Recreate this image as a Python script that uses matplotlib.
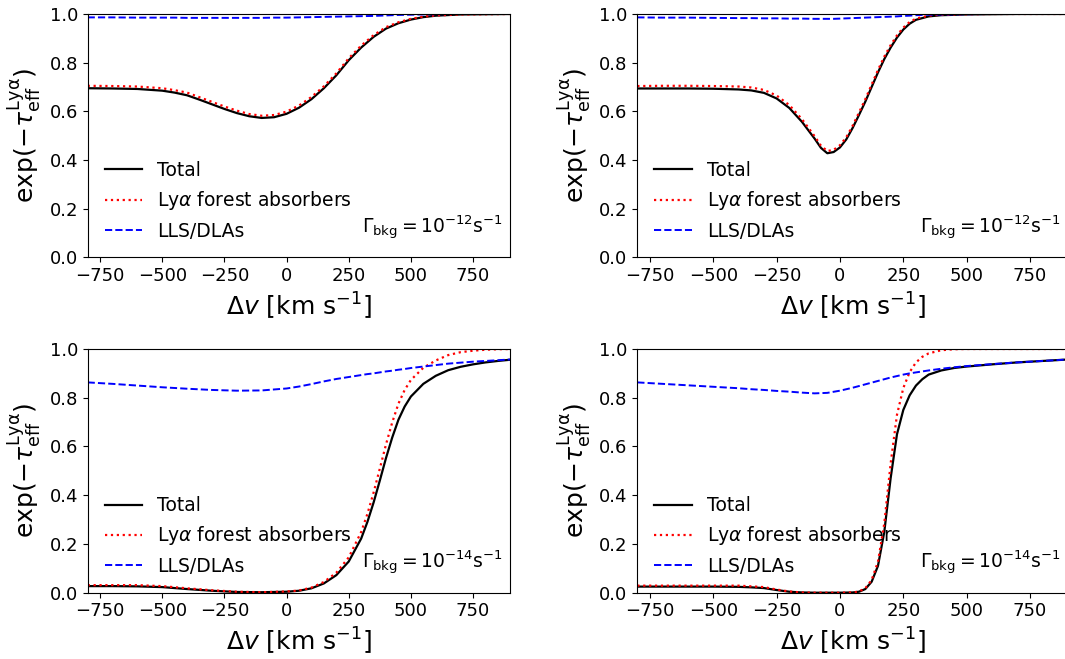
import numpy as np
import matplotlib
matplotlib.use("Agg")
import matplotlib.pyplot as plt

# ---- top left: Gamma = 1e-12, broad absorption ----
v_tl = [-800, -700, -600, -500, -450, -400, -350, -300, -250, -200, -150, -100, -50, 0, 50, 100,
        150, 200, 250, 300, 350, 400, 450, 500, 550, 600, 700, 800, 900]
tot_tl = [0.695, 0.694, 0.692, 0.685, 0.677, 0.666, 0.648, 0.629, 0.610, 0.593, 0.580, 0.573, 0.576, 0.590,
          0.615, 0.650, 0.695, 0.748, 0.810, 0.862, 0.906, 0.940, 0.962, 0.977, 0.987, 0.993, 0.998, 0.999, 1.0]
lya_tl = [0.705, 0.704, 0.702, 0.695, 0.687, 0.677, 0.658, 0.639, 0.620, 0.603, 0.589, 0.582, 0.585, 0.599,
          0.624, 0.659, 0.703, 0.756, 0.818, 0.870, 0.913, 0.946, 0.966, 0.980, 0.989, 0.994, 0.998, 0.999, 1.0]
lls_tl = [0.986, 0.986, 0.985, 0.985, 0.985, 0.984, 0.984, 0.984, 0.984, 0.984, 0.984, 0.984, 0.985, 0.985,
          0.986, 0.987, 0.988, 0.989, 0.990, 0.991, 0.992, 0.994, 0.996, 0.997, 0.998, 0.999, 1.0, 1.0, 1.0]

# ---- top right: Gamma = 1e-12, narrow absorption ----
v_tr = [-800, -700, -600, -500, -400, -350, -300, -250, -200, -150, -100, -75, -50, -25, 0, 25, 50, 75,
        100, 125, 150, 175, 200, 225, 250, 275, 300, 350, 400, 500, 600, 700, 800, 900]
tot_tr = [0.694, 0.694, 0.694, 0.693, 0.690, 0.686, 0.676, 0.653, 0.614, 0.557, 0.488, 0.450, 0.428, 0.433,
          0.452, 0.485, 0.532, 0.585, 0.640, 0.700, 0.760, 0.815, 0.862, 0.903, 0.936, 0.960, 0.976, 0.990,
          0.995, 0.998, 0.999, 1.0, 1.0, 1.0]
lya_tr = [0.704, 0.705, 0.705, 0.704, 0.702, 0.698, 0.688, 0.665, 0.626, 0.568, 0.498, 0.459, 0.437, 0.442,
          0.461, 0.494, 0.541, 0.595, 0.650, 0.710, 0.770, 0.825, 0.872, 0.912, 0.944, 0.967, 0.981, 0.993,
          0.997, 0.999, 1.0, 1.0, 1.0, 1.0]
lls_tr = [0.986, 0.985, 0.985, 0.984, 0.983, 0.983, 0.982, 0.982, 0.981, 0.981, 0.980, 0.980, 0.980, 0.980,
          0.981, 0.982, 0.983, 0.984, 0.985, 0.986, 0.987, 0.988, 0.989, 0.990, 0.992, 0.993, 0.995, 0.997,
          0.998, 0.999, 1.0, 1.0, 1.0, 1.0]

# ---- bottom left: Gamma = 1e-14 ----
v_bl = [-800, -700, -600, -500, -400, -300, -200, -100, 0, 50, 100, 150, 200, 250, 300, 325, 350, 375,
        400, 425, 450, 475, 500, 550, 600, 650, 700, 750, 800, 850, 900]
tot_bl = [0.027, 0.027, 0.026, 0.023, 0.015, 0.008, 0.003, 0.002, 0.004, 0.008, 0.018, 0.038, 0.072, 0.128,
          0.222, 0.290, 0.370, 0.460, 0.553, 0.637, 0.710, 0.764, 0.805, 0.857, 0.890, 0.913, 0.927, 0.937,
          0.945, 0.951, 0.956]
lya_bl = [0.031, 0.031, 0.031, 0.027, 0.018, 0.010, 0.004, 0.002, 0.005, 0.009, 0.021, 0.044, 0.082, 0.145,
          0.249, 0.323, 0.411, 0.509, 0.609, 0.699, 0.776, 0.832, 0.873, 0.923, 0.953, 0.975, 0.987, 0.993,
          0.997, 0.999, 1.0]
lls_bl = [0.863, 0.857, 0.850, 0.843, 0.837, 0.832, 0.829, 0.830, 0.838, 0.846, 0.856, 0.867, 0.877, 0.885,
          0.893, 0.897, 0.900, 0.904, 0.908, 0.911, 0.915, 0.918, 0.922, 0.928, 0.934, 0.940, 0.944, 0.948,
          0.951, 0.954, 0.957]

# ---- bottom right: Gamma = 1e-14 ----
v_br = [-800, -700, -600, -500, -400, -350, -300, -250, -200, -150, -100, -50, 0, 50, 75, 100, 125, 150,
        175, 200, 225, 250, 275, 300, 325, 350, 400, 450, 500, 600, 700, 800, 900]
tot_br = [0.025, 0.025, 0.025, 0.025, 0.024, 0.022, 0.019, 0.011, 0.004, 0.001, 0.0, 0.0, 0.0, 0.001, 0.004,
          0.015, 0.045, 0.110, 0.250, 0.470, 0.650, 0.750, 0.810, 0.850, 0.876, 0.895, 0.912, 0.922, 0.928,
          0.937, 0.945, 0.951, 0.957]
lya_br = [0.029, 0.029, 0.029, 0.029, 0.029, 0.026, 0.023, 0.013, 0.005, 0.001, 0.0, 0.0, 0.0, 0.001, 0.005,
          0.018, 0.052, 0.127, 0.285, 0.530, 0.730, 0.840, 0.905, 0.945, 0.968, 0.982, 0.995, 0.999, 1.0,
          1.0, 1.0, 1.0, 1.0]
lls_br = [0.863, 0.857, 0.851, 0.845, 0.839, 0.835, 0.832, 0.828, 0.825, 0.821, 0.818, 0.820, 0.829, 0.841,
          0.848, 0.855, 0.862, 0.869, 0.876, 0.883, 0.889, 0.895, 0.900, 0.904, 0.908, 0.912, 0.919, 0.925,
          0.930, 0.938, 0.945, 0.951, 0.957]

gamma_labels = [r"$\Gamma_{\rm bkg} = 10^{-12}{\rm s}^{-1}$", r"$\Gamma_{\rm bkg} = 10^{-12}{\rm s}^{-1}$",
                r"$\Gamma_{\rm bkg} = 10^{-14}{\rm s}^{-1}$", r"$\Gamma_{\rm bkg} = 10^{-14}{\rm s}^{-1}$"]

panels = [(v_tl, tot_tl, lya_tl, lls_tl), (v_tr, tot_tr, lya_tr, lls_tr),
          (v_bl, tot_bl, lya_bl, lls_bl), (v_br, tot_br, lya_br, lls_br)]

# axes rectangles in figure fractions (right column runs past the figure edge)
rects = [[0.0823, 0.6093, 0.3969, 0.3695], [0.5984, 0.6093, 0.4044, 0.3695],
         [0.0823, 0.1006, 0.3969, 0.3698], [0.5984, 0.1006, 0.4044, 0.3698]]

fig = plt.figure(figsize=(10.65, 6.59), dpi=100)

for rect, (v, tot, lya, lls), glab in zip(rects, panels, gamma_labels):
    ax = fig.add_axes(rect)
    ax.plot(v, tot, color="black", lw=1.6, label="Total")
    ax.plot(v, lya, color="red", ls=":", lw=1.6, label=r"Ly$\alpha$ forest absorbers")
    ax.plot(v, lls, color="blue", ls="--", lw=1.4, label="LLS/DLAs")
    ax.set_xlim(-800, 900)
    ax.set_ylim(0, 1)
    ax.set_xticks([-750, -500, -250, 0, 250, 500, 750])
    ax.set_yticks([0.0, 0.2, 0.4, 0.6, 0.8, 1.0])
    ax.tick_params(labelsize=13)
    ax.set_xlabel(r"$\Delta v$ [km s$^{-1}$]", fontsize=18)
    ax.set_ylabel(r"exp$(-\tau_{\rm eff}^{\rm Ly\alpha})$", fontsize=18)
    ax.legend(loc="lower left", frameon=False, fontsize=13.5)
    ax.text(0.983, 0.12, glab, transform=ax.transAxes, ha="right", va="center", fontsize=13.5)

fig.savefig("out.png", dpi=100)
